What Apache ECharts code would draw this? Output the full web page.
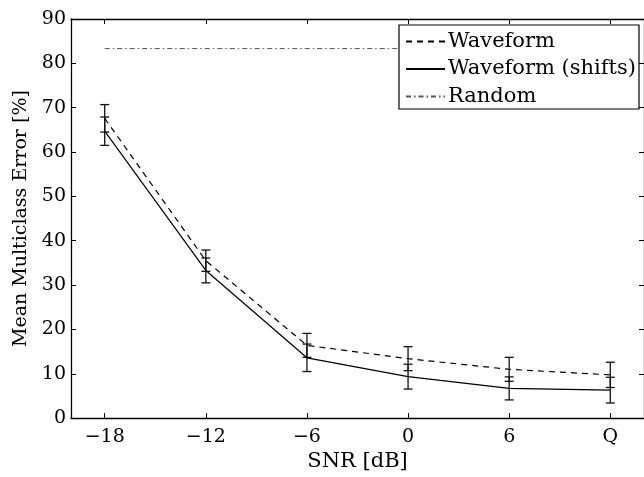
<!DOCTYPE html>
<html><head><meta charset="utf-8">
<script src="https://cdn.jsdelivr.net/npm/echarts@6/dist/echarts.min.js"></script>
<style>html,body{margin:0;padding:0;background:#fff}#c{width:644px;height:477px}</style>
</head><body><div id="c"></div>
<script>
// ---- data ----
const snr = [-18, -12, -6, 0, 6, 12];              // 12 stands for "Q"
const tickLabels = ['\u221218', '\u221212', '\u22126', '0', '6', 'Q'];
const yTicks = [0, 10, 20, 30, 40, 50, 60, 70, 80, 90];
const waveform = [67.6, 35.5, 16.4, 13.4, 11.0, 9.75];
const waveformErr = [3.1, 2.4, 2.7, 2.7, 2.7, 2.85];
const shifts = [64.7, 33.3, 13.6, 9.35, 6.7, 6.3];
const shiftsErr = [3.2, 2.8, 3.1, 2.8, 2.6, 2.9];
const randomLevel = 83.33;
const seriesNames = ['Waveform', 'Waveform (shifts)', 'Random'];

const FONT = 'DejaVu Serif';
const FS = 19;
const chart = echarts.init(document.getElementById('c'), null, {renderer: 'canvas'});

function pairs(xs, ys) { return xs.map((x, i) => [x, ys[i]]); }
function errData(xs, ys, es) { return xs.map((x, i) => [x, ys[i] - es[i], ys[i] + es[i]]); }
function errRender(params, api) {
  const x = api.value(0), lo = api.value(1), hi = api.value(2);
  const pl = api.coord([x, lo]), ph = api.coord([x, hi]);
  const w = 4.5;
  const st = {stroke: '#111', lineWidth: 1.3};
  return {type: 'group', children: [
    {type: 'line', shape: {x1: pl[0], y1: pl[1], x2: ph[0], y2: ph[1]}, style: st},
    {type: 'line', shape: {x1: pl[0] - w, y1: pl[1], x2: pl[0] + w, y2: pl[1]}, style: st},
    {type: 'line', shape: {x1: ph[0] - w, y1: ph[1], x2: ph[0] + w, y2: ph[1]}, style: st}
  ]};
}
const tickLabelMap = {};
snr.forEach((v, i) => tickLabelMap[v] = tickLabels[i]);

const axisLine = {show: true, onZero: false, lineStyle: {color: '#000', width: 1.3}};
const option = {
  animation: false,
  backgroundColor: '#fff',
  textStyle: {fontFamily: FONT},
  grid: {left: 71, top: 19, width: 575.6, height: 411, containLabel: false},
  legend: {
    data: seriesNames,
    orient: 'vertical',
    left: 399, top: 25,
    padding: [6, 3, 2, 6],
    itemGap: 6.5,
    itemWidth: 39, itemHeight: 14,
    backgroundColor: '#fff',
    borderColor: '#000', borderWidth: 1.2,
    itemStyle: {opacity: 0},
    textStyle: {fontFamily: FONT, fontSize: 21, lineHeight: 20, color: '#000', padding: [0, 0, 0, -2]},
    z: 10
  },
  xAxis: [{
    type: 'value', position: 'bottom', min: -20, max: 14,
    axisLine: axisLine,
    splitLine: {show: false},
    axisTick: {show: true, inside: true, length: 5, customValues: snr, lineStyle: {color: '#000'}},
    axisLabel: {customValues: snr, margin: 9, fontFamily: FONT, fontSize: FS, color: '#000',
      formatter: v => tickLabelMap[v] !== undefined ? tickLabelMap[v] : ''},
    name: 'SNR [dB]', nameLocation: 'middle', nameGap: 31,
    nameTextStyle: {fontFamily: FONT, fontSize: 21, color: '#000'}
  }, {
    type: 'value', position: 'top', min: -20, max: 14,
    axisLine: axisLine,
    splitLine: {show: false},
    axisTick: {show: true, inside: true, length: 5, customValues: snr, lineStyle: {color: '#000'}},
    axisLabel: {show: false}
  }],
  yAxis: [{
    type: 'value', position: 'left', min: 0, max: 90, interval: 10,
    axisLine: axisLine,
    splitLine: {show: false},
    axisTick: {show: true, inside: true, length: 5, lineStyle: {color: '#000'}},
    axisLabel: {margin: 5, fontFamily: FONT, fontSize: FS, color: '#000',
      formatter: v => yTicks.includes(v) ? String(v) : ''},
    name: 'Mean Multiclass Error [%]', nameLocation: 'middle', nameGap: 40,
    nameTextStyle: {fontFamily: FONT, fontSize: FS, color: '#000'}
  }, {
    type: 'value', position: 'right', min: 0, max: 90, interval: 10,
    axisLine: axisLine,
    splitLine: {show: false},
    axisTick: {show: true, inside: true, length: 5, lineStyle: {color: '#000'}},
    axisLabel: {show: false}
  }],
  series: [
    {name: 'Waveform', type: 'line', data: pairs(snr, waveform), symbol: 'none',
      lineStyle: {color: '#000', width: 1.2, type: [6, 5]}, itemStyle: {color: '#000'}, z: 3},
    {name: 'Waveform (shifts)', type: 'line', data: pairs(snr, shifts), symbol: 'none',
      lineStyle: {color: '#000', width: 1.2, type: 'solid'}, itemStyle: {color: '#000'}, z: 3},
    {name: 'Random', type: 'line', data: pairs([snr[0], snr[snr.length - 1]], [randomLevel, randomLevel]), symbol: 'none',
      lineStyle: {color: '#555', width: 1, type: [5, 3, 1.5, 3]}, itemStyle: {color: '#555'}, z: 2},
    {type: 'custom', name: 'errW', data: errData(snr, waveform, waveformErr), renderItem: errRender,
      encode: {x: 0, y: [1, 2]}, z: 4},
    {type: 'custom', name: 'errS', data: errData(snr, shifts, shiftsErr), renderItem: errRender,
      encode: {x: 0, y: [1, 2]}, z: 4}
  ]
};
chart.setOption(option);
</script>
</body></html>
